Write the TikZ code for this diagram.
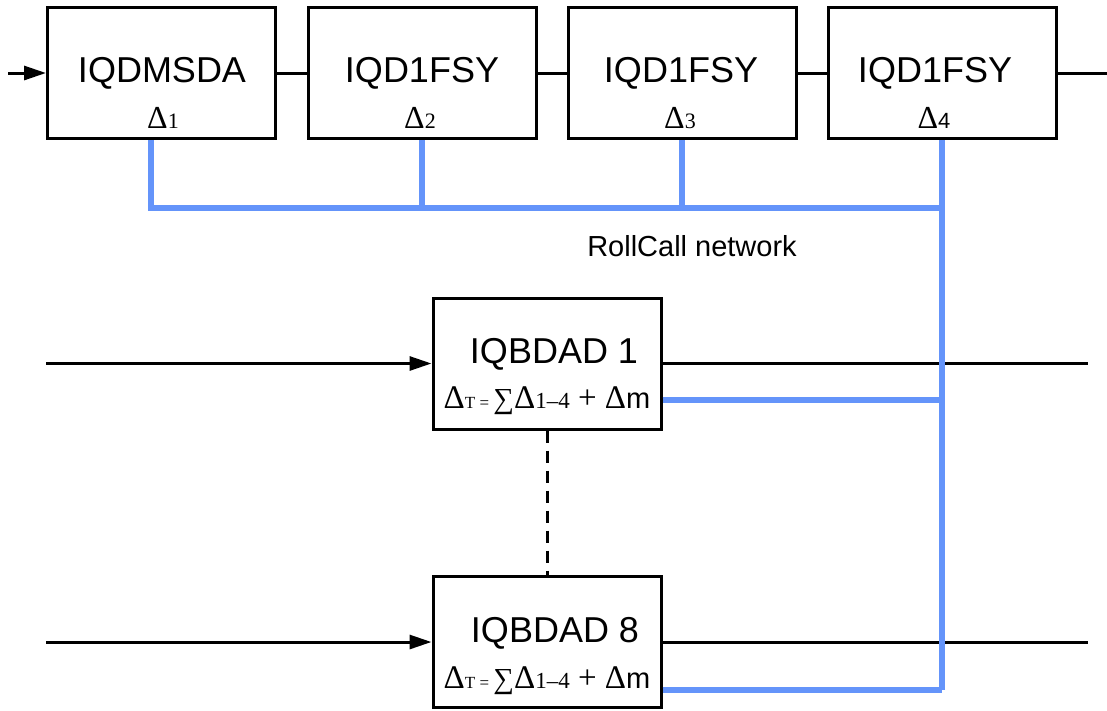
\documentclass[tikz,border=0pt]{standalone}
\usepackage{fontspec}
\setmainfont{Liberation Sans}
\newfontfamily\serf{Liberation Serif}
\newfontfamily\sanf{Liberation Sans}
\usetikzlibrary{arrows.meta}
\definecolor{netblue}{RGB}{100,148,250}
\newcommand{\fs}[1]{\fontsize{#1}{#1}\selectfont}
\newcommand{\dsub}[2]{{\serf\fs{32}Δ\fs{22}#1#2}}
\newcommand{\formula}{{\serf\fs{33}Δ\fs{17}T = \fs{29}∑\fs{33}Δ\fs{23}1–4\fs{33}\ + Δ\sanf\fs{29}m}}
\begin{document}
\begin{tikzpicture}[x=1pt,y=-1pt,
  box/.style={draw, line width=3pt, minimum width=228pt, minimum height=131pt, inner sep=0pt},
  wire/.style={line width=3pt},
  net/.style={draw=netblue, line width=5.5pt},
  arr/.style={wire, -{Triangle[length=22pt,width=14pt]}},
  lbl/.style={anchor=base, inner sep=0pt, font=\fs{36}},
  sublbl/.style={anchor=base, inner sep=0pt}]
\useasboundingbox (0,0) rectangle (1107,710);
% top row boxes
\node[box] (b1) at (161.5,73) {};
\node[box] (b2) at (422,73) {};
\node[box] (b3) at (682,73) {};
\node[box] (b4) at (942,73) {};
\node[lbl] (t1) at (162,82) {IQDMSDA};
\node[lbl] (t2) at (422,82) {IQD1FSY};
\node[lbl] (t3) at (681,82) {IQD1FSY};
\node[lbl] (t4) at (935,82) {IQD1FSY};
\node[sublbl] (d1) at (163,128) {\dsub{1}{}};
\node[sublbl] (d2) at (420,128) {\dsub{2}{}};
\node[sublbl] (d3) at (680,128) {\dsub{3}{}};
\node[sublbl] (d4) at (934,128) {{\serf\fs{32}Δ\sanf\fs{22}4}};
% chain wires
\coordinate (in0) at (8,73);
\coordinate (out0) at (1107,73);
\draw[arr] (in0) -- (b1.west);
\draw[wire] (b1.east) -- (b2.west);
\draw[wire] (b2.east) -- (b3.west);
\draw[wire] (b3.east) -- (b4.west);
\draw[wire] (b4.east) -- (out0);
% bottom boxes
\node[box] (q1) at (547,363.5) {};
\node[box] (q8) at (547,642) {};
\node[lbl] (qt1) at (554,363) {IQBDAD 1};
\node[lbl] (qt8) at (555,642) {IQBDAD 8};
\node[sublbl] (f1) at (547,408) {\formula};
\node[sublbl] (f8) at (547,688) {\formula};
\coordinate (qin1) at (46,363.5);
\coordinate (qin8) at (46,642);
\coordinate (qout1) at (1088,363.5);
\coordinate (qout8) at (1088,642);
\draw[arr] (qin1) -- (q1.west);
\draw[arr] (qin8) -- (q8.west);
\draw[wire] (q1.east) -- (qout1);
\draw[wire] (q8.east) -- (qout8);
\draw[wire, dash pattern=on 12pt off 8pt] (q1.south) -- (q8.north);
% RollCall network
\coordinate (bus) at (942,208);
\coordinate (trunk) at (942,690);
\draw[net] ([xshift=-10.5pt]b1.south) |- (bus);
\draw[net] (b2.south) -- (b2.south |- bus);
\draw[net] (b3.south) -- (b3.south |- bus);
\draw[net] (b4.south) -- (trunk);
\draw[net] ([yshift=-36.5pt]q1.east) -- ([yshift=-36.5pt]q1.east -| trunk);
\draw[net] ([yshift=-48pt]q8.east) -- (trunk);
\node[anchor=base, inner sep=0pt, font=\fs{29}] (net) at (692,256) {RollCall network};
\end{tikzpicture}
\end{document}
